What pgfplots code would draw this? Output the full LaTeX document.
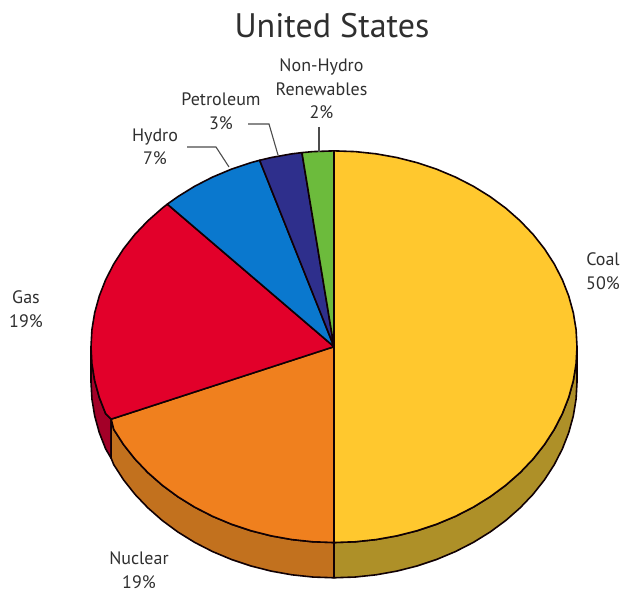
\documentclass[border=0pt]{standalone}
\usepackage{pgfplots}
\pgfplotsset{compat=1.18}
\usepackage{fontspec}
\setmainfont{PT Sans}
\definecolor{coal}{HTML}{FFC82E}
\definecolor{coalside}{HTML}{AE9028}
\definecolor{nuclear}{HTML}{F0801E}
\definecolor{nuclearside}{HTML}{C2711E}
\definecolor{gas}{HTML}{E2002A}
\definecolor{gasside}{HTML}{A30028}
\definecolor{hydro}{HTML}{0A78CE}
\definecolor{petroleum}{HTML}{2E2F8C}
\definecolor{renewables}{HTML}{6CBB3C}
\definecolor{inktext}{HTML}{2F2F2F}
\begin{document}
\begin{tikzpicture}[x=1pt,y=1pt]
\path[use as bounding box] (0,0) rectangle (625,592);
\begin{axis}[
  at={(0pt,0pt)}, anchor=south west,
  scale only axis, width=625pt, height=592pt,
  hide axis, clip=false,
  xmin=-1.3745, xmax=1.1975, ymin=-1.2526, ymax=1.7704,
  every axis plot/.append style={draw=black!90!gasside, line width=1.6pt, line join=round}
]
% Rim of the disc, lower edge drawn first
\addplot[fill=gasside] coordinates {(-1,0)(-.9962,-.0872)(-.9848,-.1736)(-.9659,-.2588)(-.9397,-.342)(-.917,-.37)
  (-.917,-.57)(-.9397,-.522)(-.9659,-.4388)(-.9848,-.3536)(-.9962,-.2672)(-1,-.18)} -- cycle;
\addplot[fill=nuclearside] coordinates {(-.917,-.37)(-.9063,-.4226)(-.866,-.5)(-.8192,-.5736)(-.766,-.6428)(-.7071,-.7071)(-.6428,-.766)(-.5736,-.8192)(-.5,-.866)(-.4226,-.9063)(-.342,-.9397)(-.2588,-.9659)(-.1736,-.9848)(-.0872,-.9962)(0,-1)
  (0,-1.18)(-.0872,-1.1762)(-.1736,-1.1648)(-.2588,-1.1459)(-.342,-1.1197)(-.4226,-1.0863)(-.5,-1.046)(-.5736,-.9992)(-.6428,-.946)(-.7071,-.8871)(-.766,-.8228)(-.8192,-.7536)(-.866,-.68)(-.9063,-.6026)(-.917,-.57)} -- cycle;
\addplot[fill=coalside] coordinates {(0,-1)(.0872,-.9962)(.1736,-.9848)(.2588,-.9659)(.342,-.9397)(.4226,-.9063)(.5,-.866)(.5736,-.8192)(.6428,-.766)(.7071,-.7071)(.766,-.6428)(.8192,-.5736)(.866,-.5)(.9063,-.4226)(.9397,-.342)(.9659,-.2588)(.9848,-.1736)(.9962,-.0872)(1,0)
  (1,-.18)(.9962,-.2672)(.9848,-.3536)(.9659,-.4388)(.9397,-.522)(.9063,-.6026)(.866,-.68)(.8192,-.7536)(.766,-.8228)(.7071,-.8871)(.6428,-.946)(.5736,-.9992)(.5,-1.046)(.4226,-1.0863)(.342,-1.1197)(.2588,-1.1459)(.1736,-1.1648)(.0872,-1.1762)(0,-1.18)} -- cycle;
% Top face: one wedge per source
\addplot[fill=coal] coordinates {(0,0)(0,1)(.0872,.9962)(.1736,.9848)(.2588,.9659)(.342,.9397)(.4226,.9063)(.5,.866)(.5736,.8192)(.6428,.766)(.7071,.7071)(.766,.6428)(.8192,.5736)(.866,.5)(.9063,.4226)(.9397,.342)(.9659,.2588)(.9848,.1736)(.9962,.0872)(1,0)
  (.9962,-.0872)(.9848,-.1736)(.9659,-.2588)(.9397,-.342)(.9063,-.4226)(.866,-.5)(.8192,-.5736)(.766,-.6428)(.7071,-.7071)(.6428,-.766)(.5736,-.8192)(.5,-.866)(.4226,-.9063)(.342,-.9397)(.2588,-.9659)(.1736,-.9848)(.0872,-.9962)(0,-1)} -- cycle;
\addplot[fill=nuclear] coordinates {(0,0)(-.917,-.37)(-.9063,-.4226)(-.866,-.5)(-.8192,-.5736)(-.766,-.6428)(-.7071,-.7071)(-.6428,-.766)(-.5736,-.8192)(-.5,-.866)(-.4226,-.9063)(-.342,-.9397)(-.2588,-.9659)(-.1736,-.9848)(-.0872,-.9962)(0,-1)} -- cycle;
\addplot[fill=gas] coordinates {(0,0)(-.686,.728)(-.7071,.7071)(-.766,.6428)(-.8192,.5736)(-.866,.5)(-.9063,.4226)(-.9397,.342)(-.9659,.2588)(-.9848,.1736)(-.9962,.0872)(-1,0)(-.9962,-.0872)(-.9848,-.1736)(-.9659,-.2588)(-.9397,-.342)(-.917,-.37)} -- cycle;
\addplot[fill=hydro] coordinates {(0,0)(-.306,.952)(-.342,.9397)(-.4226,.9063)(-.5,.866)(-.5736,.8192)(-.6428,.766)(-.686,.728)} -- cycle;
\addplot[fill=petroleum] coordinates {(0,0)(-.132,.991)(-.1736,.9848)(-.2588,.9659)(-.306,.952)} -- cycle;
\addplot[fill=renewables] coordinates {(0,0)(0,1)(-.0872,.9962)(-.132,.991)} -- cycle;
\end{axis}
% Leader lines from the small wedges to their labels
\draw[line width=1.1pt,color=black!70] (187,445) -- (216,445) -- (229,425);
\draw[line width=1.1pt,color=black!70] (248,468) -- (269,468) -- (278,437);
\draw[line width=1.1pt,color=black!70] (319,465) -- (319,440);
% Labels
\begin{scope}[every node/.style={align=center,text=inktext,font=\fontsize{18}{23.5}\selectfont,inner sep=0pt}]
\node at (332,566) {\fontsize{34}{34}\selectfont United States};
\node at (321.5,503) {Non-Hydro\\Renewables\\2\%};
\node at (221,481) {Petroleum\\3\%};
\node at (155,445) {Hydro\\7\%};
\node at (26,283) {Gas\\19\%};
\node at (603,321) {Coal\\50\%};
\node at (139,22) {Nuclear\\19\%};
\end{scope}
\end{tikzpicture}
\end{document}
